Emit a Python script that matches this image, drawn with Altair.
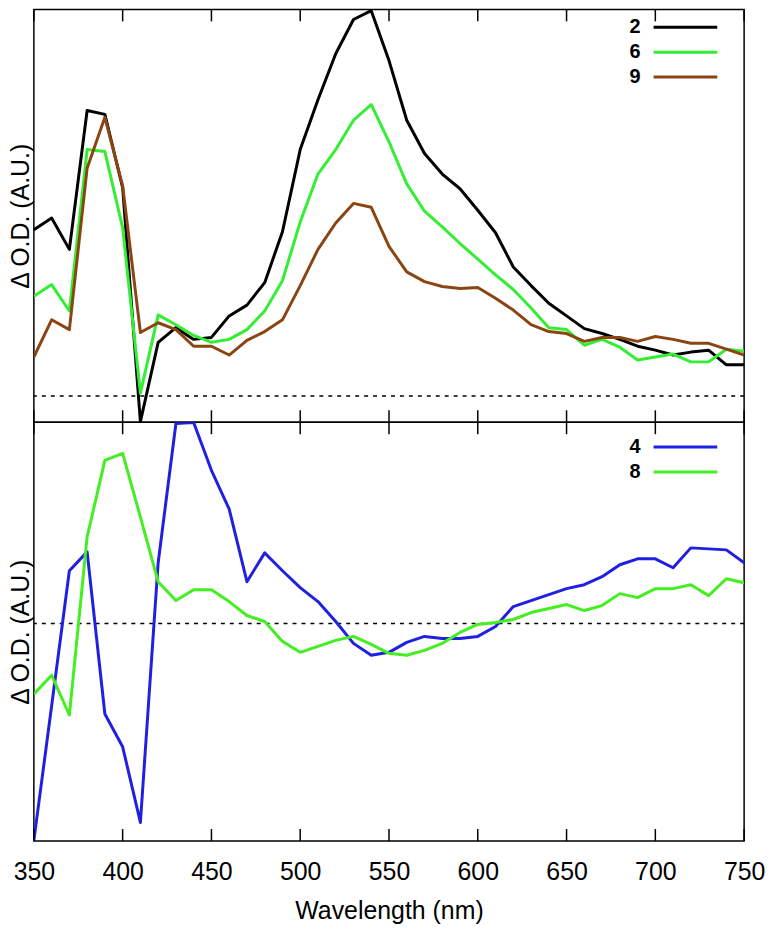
import altair as alt
import pandas as pd

wavelength = [350, 360, 370, 380, 390, 400, 410, 420, 430, 440, 450, 460, 470, 480,
              490, 500, 510, 520, 530, 540, 550, 560, 570, 580, 590, 600, 610, 620,
              630, 640, 650, 660, 670, 680, 690, 700, 710, 720, 730, 740, 750]

# top panel
s2 = [1.70, 1.82, 1.50, 2.92, 2.88, 2.13, -0.26, 0.55, 0.70, 0.58, 0.60, 0.82, 0.93, 1.16,
      1.68, 2.52, 3.03, 3.50, 3.85, 3.94, 3.43, 2.82, 2.48, 2.27, 2.12, 1.90, 1.67, 1.32,
      1.13, 0.95, 0.82, 0.69, 0.64, 0.58, 0.51, 0.47, 0.42, 0.45, 0.47, 0.32, 0.32]
s6 = [1.02, 1.14, 0.87, 2.52, 2.50, 1.72, 0.03, 0.83, 0.73, 0.62, 0.55, 0.58, 0.68, 0.87,
      1.18, 1.78, 2.27, 2.52, 2.82, 2.98, 2.60, 2.17, 1.89, 1.73, 1.56, 1.40, 1.24, 1.09,
      0.90, 0.70, 0.68, 0.52, 0.58, 0.50, 0.37, 0.40, 0.43, 0.35, 0.35, 0.48, 0.46]
s9 = [0.40, 0.78, 0.68, 2.33, 2.85, 2.15, 0.65, 0.75, 0.68, 0.51, 0.51, 0.42, 0.57, 0.66,
      0.78, 1.13, 1.50, 1.77, 1.97, 1.93, 1.53, 1.27, 1.17, 1.12, 1.10, 1.11, 1.00, 0.88,
      0.73, 0.66, 0.64, 0.56, 0.60, 0.60, 0.56, 0.61, 0.58, 0.54, 0.54, 0.48, 0.42]

# bottom panel
s4 = [-2.18, -0.83, 0.53, 0.72, -0.91, -1.24, -2.00, 0.61, 2.01, 2.02, 1.54, 1.15, 0.42, 0.71,
      0.53, 0.36, 0.22, 0.02, -0.20, -0.32, -0.29, -0.19, -0.13, -0.15, -0.15, -0.13, -0.03, 0.17,
      0.23, 0.29, 0.35, 0.39, 0.47, 0.59, 0.65, 0.65, 0.56, 0.76, 0.75, 0.74, 0.61]
s8 = [-0.71, -0.52, -0.92, 0.87, 1.64, 1.71, 1.07, 0.42, 0.23, 0.34, 0.34, 0.22, 0.08, 0.02,
      -0.18, -0.29, -0.23, -0.17, -0.13, -0.21, -0.30, -0.32, -0.27, -0.20, -0.09, -0.01, 0.01, 0.04,
      0.11, 0.15, 0.19, 0.13, 0.18, 0.30, 0.26, 0.35, 0.35, 0.39, 0.28, 0.45, 0.41]

top_names = ["2", "6", "9"]
top_colors = ["#000000", "#33ee33", "#8b4513"]
bot_names = ["4", "8"]
bot_colors = ["#2020e0", "#44ee22"]

x_ticks = [350, 400, 450, 500, 550, 600, 650, 700, 750]
x_domain = [350, 750]
top_domain = [-0.267, 3.953]
bot_domain = [-2.187, 2.023]

FONT = "Liberation Sans"
W = 714
H_TOP = 415
H_BOT = 421


def long_df(series_dict):
    rows = []
    for name, vals in series_dict.items():
        for w, v in zip(wavelength, vals):
            rows.append({"wl": w, "value": v, "series": name})
    return pd.DataFrame(rows)


top_df = long_df({"2": s2, "6": s6, "9": s9})
bot_df = long_df({"4": s4, "8": s8})
tick_df = pd.DataFrame({"t": x_ticks})
zero_df = pd.DataFrame({"z": [0]})


def panel(df, names, colors, ydomain, height, legend_range, show_x):
    xscale = alt.Scale(domain=x_domain, nice=False, zero=False)
    yscale = alt.Scale(domain=ydomain, nice=False, zero=False)
    cscale = alt.Scale(domain=names, range=colors)
    if show_x:
        xaxis = alt.Axis(title="Wavelength (nm)", values=x_ticks, ticks=False, tickSize=0,
                         domain=False, grid=False, labelFontSize=25, labelFont=FONT,
                         labelColor="black", labelPadding=19, titleFontSize=25,
                         titleFont=FONT, titleFontWeight="normal", titleColor="black",
                         titlePadding=14, labelFlush=False)
    else:
        xaxis = None
    yaxis = alt.Axis(title="Δ O.D. (A.U.)", labels=False, ticks=False, domain=False,
                     grid=False, titleFontSize=25, titleFont=FONT,
                     titleFontWeight="normal", titleColor="black", titlePadding=0)

    zero = alt.Chart(zero_df).mark_rule(color="black", strokeWidth=1.5,
                                        strokeDash=[4, 5]).encode(
        y=alt.Y("z:Q", scale=yscale, axis=yaxis))
    lines = alt.Chart(df).mark_line(strokeWidth=3, clip=True, strokeJoin="round").encode(
        x=alt.X("wl:Q", scale=xscale, axis=xaxis),
        y=alt.Y("value:Q", scale=yscale, axis=yaxis),
        color=alt.Color("series:N", scale=cscale, legend=None),
    )
    ticks_top = alt.Chart(tick_df).mark_rule(color="black", strokeWidth=1.5).encode(
        x=alt.X("t:Q", scale=xscale, axis=xaxis),
        y=alt.value(0), y2=alt.value(12))
    ticks_bot = alt.Chart(tick_df).mark_rule(color="black", strokeWidth=1.5).encode(
        x=alt.X("t:Q", scale=xscale, axis=xaxis),
        y=alt.value(height - 12), y2=alt.value(height))
    main = alt.layer(zero, lines, ticks_top, ticks_bot)

    leg_df = pd.DataFrame({"series": names, "row": list(range(len(names)))})
    lscale = alt.Scale(domain=[0, len(names) - 1], range=legend_range, nice=False, zero=False)
    leg_lines = alt.Chart(leg_df).mark_rule(strokeWidth=3).encode(
        x=alt.value(623), x2=alt.value(687),
        y=alt.Y("row:Q", scale=lscale, axis=None),
        color=alt.Color("series:N", scale=cscale, legend=None))
    leg_text = alt.Chart(leg_df).mark_text(align="right", baseline="middle",
                                           fontSize=20, fontWeight="bold",
                                           font=FONT, color="black").encode(
        x=alt.value(610),
        y=alt.Y("row:Q", scale=lscale, axis=None),
        text="series:N")
    legend = alt.layer(leg_lines, leg_text)

    return alt.layer(main, legend).resolve_scale(y="independent").properties(
        width=W, height=height)


top = panel(top_df, top_names, top_colors, top_domain, H_TOP, [18, 68], False)
bot = panel(bot_df, bot_names, bot_colors, bot_domain, H_BOT, [25, 50], True)

chart = alt.vconcat(top, bot, spacing=0, bounds="flush").resolve_scale(
    y="independent", color="independent"
).properties(
    padding={"left": 0, "top": -3, "right": 0, "bottom": 0}
).configure(background="white").configure_view(stroke="black", strokeWidth=1.5)

chart.save("out.html", embed_options={"renderer": "svg", "actions": False})
